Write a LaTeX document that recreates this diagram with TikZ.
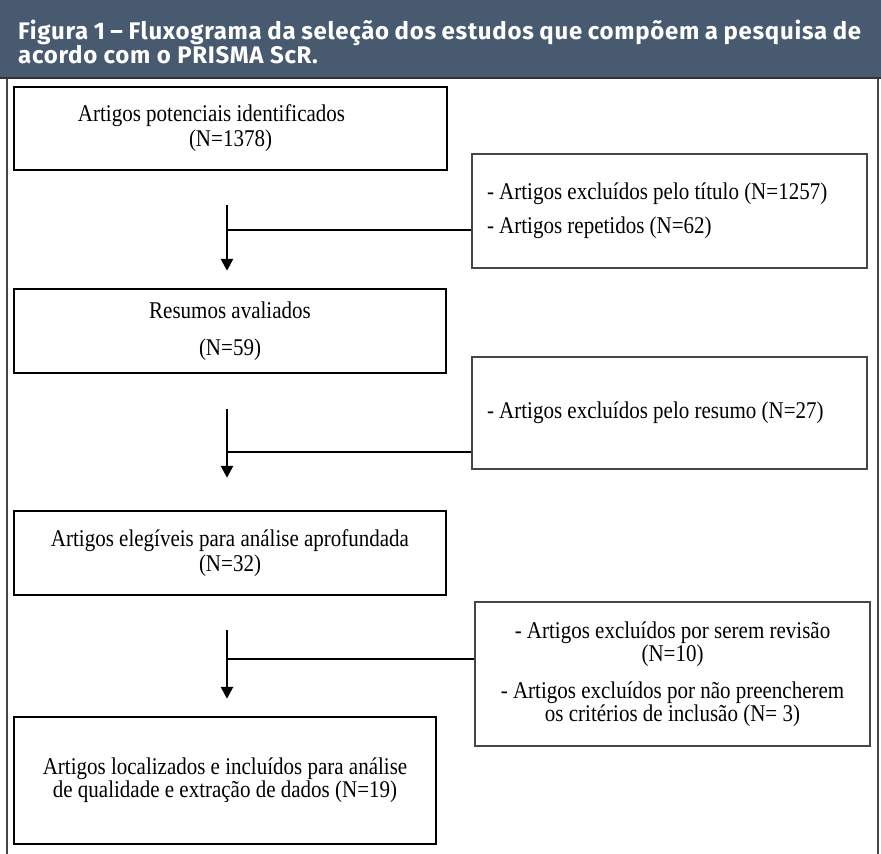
\documentclass[tikz,border=0pt]{standalone}
\usepackage{fontspec}
\setmainfont[FakeStretch=0.875]{Liberation Serif}
\newfontfamily\headfont[LetterSpace=3]{Fira Sans}
\usepackage{tikz}
\usetikzlibrary{calc}
\usetikzlibrary{arrows.meta}

\definecolor{headblue}{RGB}{72,90,112}
\definecolor{framegray}{RGB}{70,70,70}

\begin{document}
\begin{tikzpicture}[x=1pt,y=-1pt,
    titletext/.style={text=white,inner sep=0pt,font=\headfont\bfseries\fontsize{24}{24}\selectfont},
    stagebox/.style={draw=black,line width=2.4pt,inner sep=0pt,align=center,font=\fontsize{24}{25}\selectfont},
    exclbox/.style={draw=framegray,line width=1.4pt,inner sep=15pt,text width=365pt,font=\fontsize{24}{24}\selectfont},
    flow/.style={line width=2.6pt,-{Triangle[length=12pt,width=12pt]}},
    link/.style={line width=2.8pt}]
    \useasboundingbox (0,0) rectangle (881,854);

    %header
    \fill[headblue] (0,0) rectangle (881,78);
    \draw[line width=2pt,black!80] (0,78) -- (881,78);
    \node[titletext,anchor=base west] (title1) at (18,39)
        {\makebox[843pt][s]{Figura 1 – Fluxograma da seleção dos estudos que compõem a pesquisa de}};
    \node[titletext,anchor=base west] (title2) at (18,63) {acordo com o PRISMA ScR.};

    %frame
    \draw[line width=2.5pt,framegray] (7,79) -- (7,854);
    \draw[line width=2.5pt,framegray] (878,79) -- (878,854);

    %stages
    \node[stagebox,minimum width=433pt,minimum height=83pt] (ident) at (230.5,128.5)
        {Artigos potenciais identificados\hspace*{38pt}\\(N=1378)};
    \node[stagebox,minimum width=432pt,minimum height=84pt] (resumos) at (230,331)
        {Resumos avaliados\\[12pt](N=59)};
    \node[stagebox,minimum width=432pt,minimum height=84pt] (elegiveis) at (230,553)
        {Artigos elegíveis para análise aprofundada\\(N=32)};
    \node[stagebox,minimum width=422pt,minimum height=127pt,font=\fontsize{24}{23}\selectfont] (incluidos) at (225,780.5)
        {Artigos localizados e incluídos para análise\\de qualidade e extração de dados (N=19)};

    %exclusions
    \node[exclbox,align=flush left,minimum height=114pt] (exclTitulo) at (669.5,211)
        {- Artigos excluídos pelo título (N=1257)\\[10pt]- Artigos repetidos (N=62)\\[16pt]};
    \node[exclbox,align=flush left,minimum height=112pt] (exclResumo) at (669.5,413)
        {- Artigos excluídos pelo resumo (N=27)};
    \node[exclbox,align=flush center,minimum height=144pt,font=\fontsize{24}{22.5}\selectfont] (exclRevisao) at (672.5,674)
        {- Artigos excluídos por serem revisão\\(N=10)\\[15pt]- Artigos excluídos por não preencherem\\os critérios de inclusão (N= 3)\\[10pt]};

    %arrows
    \coordinate (j1) at (227,230);
    \coordinate (j2) at (227,452);
    \coordinate (j3) at (227,659);
    \draw[flow,shorten <=34pt,shorten >=17pt] (ident.south -| j1) -- (resumos.north -| j1);
    \draw[flow,shorten <=35pt,shorten >=32pt] (resumos.south -| j2) -- (elegiveis.north -| j2);
    \draw[flow,shorten <=34pt,shorten >=17pt] (elegiveis.south -| j3) -- (incluidos.north -| j3);
    \draw[link] (exclTitulo.west |- j1) -- (j1);
    \draw[link] (exclResumo.west |- j2) -- (j2);
    \draw[link] (exclRevisao.west |- j3) -- (j3);
\end{tikzpicture}
\end{document}
